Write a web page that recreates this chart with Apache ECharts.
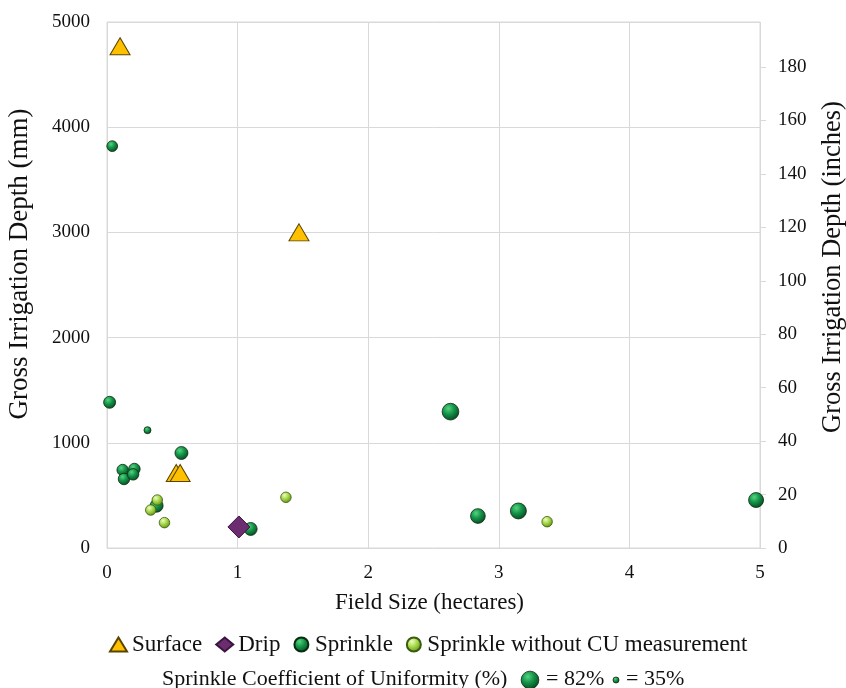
<!DOCTYPE html>
<html>
<head>
<meta charset="utf-8">
<script src="https://cdn.jsdelivr.net/npm/echarts@6/dist/echarts.min.js"></script>
<style>
  html, body { margin: 0; padding: 0; background: #fff; }
  #chart { width: 846px; height: 688px; }
</style>
</head>
<body>
<div id="chart"></div>
<script>
// Field size (ha) vs gross irrigation depth (mm) by irrigation method
const surfaceX = [0.10, 1.47, 0.53, 0.56];
const surfaceY = [4770, 3000, 713, 713];

const dripX = [1.01];
const dripY = [200];

// Sprinkle fields with a measured coefficient of uniformity (CU, %)
const sprinkleX  = [0.04, 0.02, 0.31, 0.57, 0.12, 0.21, 0.13, 0.20, 0.38, 1.10, 2.63, 2.84, 3.15, 4.97];
const sprinkleY  = [3820, 1385, 1120, 903, 741, 751, 656, 700, 402, 181, 1296, 304, 352, 456];
const sprinkleCU = [54, 59, 39, 63, 57, 57, 57, 57, 63, 63, 78, 70, 75, 71];

// Sprinkle fields without a CU measurement
const noCuX = [0.385, 0.335, 0.44, 1.37, 3.37];
const noCuY = [456, 361, 241, 482, 250];

const mmTicks = [0, 1000, 2000, 3000, 4000, 5000];
const inchTicks = [0, 20, 40, 60, 80, 100, 120, 140, 160, 180];
const fieldTicks = [0, 1, 2, 3, 4, 5];
const cuLegend = [82, 35];

const MM_PER_INCH = 25.4;
const FONT = '"Liberation Serif", "Times New Roman", serif';
const TXT = '#111';
const GRIDC = '#d9d9d9';

function cuToSize(cu) { return 6 + (cu - 35) * 11.7 / 47; }

const darkBall = {
  type: 'radial', x: 0.38, y: 0.32, r: 0.72,
  colorStops: [
    { offset: 0, color: '#55d480' },
    { offset: 0.45, color: '#15954a' },
    { offset: 1, color: '#04471d' }
  ]
};
const lightBall = {
  type: 'radial', x: 0.38, y: 0.32, r: 0.72,
  colorStops: [
    { offset: 0, color: '#eefcc0' },
    { offset: 0.45, color: '#a8d94c' },
    { offset: 1, color: '#5b8d14' }
  ]
};

const zip = (xs, ys, extra) => xs.map((x, i) => extra ? [x, ys[i], extra[i]] : [x, ys[i]]);

const chart = echarts.init(document.getElementById('chart'));
chart.setOption({
  animation: false,
  backgroundColor: '#fff',
  textStyle: { fontFamily: FONT, color: TXT },
  grid: {
    left: 107, right: 86, top: 22, bottom: 140,
    show: true, borderColor: GRIDC, borderWidth: 1,
    outerBoundsMode: 'none'
  },
  legend: {
    data: [
      { name: 'Surface', icon: 'triangle' },
      { name: 'Drip', icon: 'diamond' },
      { name: 'Sprinkle', icon: 'circle' },
      { name: 'Sprinkle without CU measurement', icon: 'circle' }
    ],
    left: 104,
    top: 628,
    itemWidth: 17,
    itemHeight: 14,
    itemGap: 13,
    textStyle: { fontFamily: FONT, fontSize: 23, color: TXT }
  },
  xAxis: {
    type: 'value',
    min: 0, max: 5, interval: 1,
    name: 'Field Size (hectares)',
    nameLocation: 'middle',
    nameGap: 43,
    nameTextStyle: { fontFamily: FONT, fontSize: 23, color: TXT, padding: [0, 8, 0, 0] },
    axisLine: { show: false },
    axisTick: { show: false },
    axisLabel: { customValues: fieldTicks, fontFamily: FONT, fontSize: 19, color: TXT, margin: 16 },
    splitLine: { show: true, lineStyle: { color: GRIDC, width: 1 } }
  },
  yAxis: [
    {
      type: 'value',
      min: 0, max: 5000, interval: 1000,
      name: 'Gross Irrigation Depth (mm)',
      nameLocation: 'middle',
      nameGap: 74,
      nameTextStyle: { fontFamily: FONT, fontSize: 27, color: TXT, padding: [0, 0, 0, 42] },
      axisLine: { show: false },
      axisTick: { show: false },
      axisLabel: {
        customValues: mmTicks, formatter: v => String(v),
        fontFamily: FONT, fontSize: 19, color: TXT, margin: 17
      },
      splitLine: { show: true, lineStyle: { color: GRIDC, width: 1 } }
    },
    {
      type: 'value',
      position: 'right',
      min: 0, max: 5000 / MM_PER_INCH,
      name: 'Gross Irrigation Depth (inches)',
      nameLocation: 'middle',
      nameGap: 60,
      nameTextStyle: { fontFamily: FONT, fontSize: 26.5, color: TXT, padding: [0, 0, 0, 36] },
      axisLine: { show: false },
      axisTick: { show: true, customValues: inchTicks, length: 6, lineStyle: { color: GRIDC } },
      axisLabel: {
        customValues: inchTicks, formatter: v => String(v),
        fontFamily: FONT, fontSize: 19, color: TXT, margin: 18
      },
      splitLine: { show: false }
    }
  ],
  series: [
    {
      name: 'Sprinkle',
      type: 'scatter',
      z: 2,
      data: zip(sprinkleX, sprinkleY, sprinkleCU),
      symbol: 'circle',
      symbolSize: v => cuToSize(v[2]),
      clip: false,
      itemStyle: { color: darkBall, borderColor: '#0b2a12', borderWidth: 0.8, opacity: 1 }
    },
    {
      name: 'Sprinkle without CU measurement',
      type: 'scatter',
      z: 3,
      data: zip(noCuX, noCuY),
      symbol: 'circle',
      symbolSize: 10.5,
      clip: false,
      itemStyle: { color: lightBall, borderColor: '#3a5a0e', borderWidth: 0.8, opacity: 1 }
    },
    {
      name: 'Surface',
      type: 'scatter',
      z: 4,
      data: zip(surfaceX, surfaceY),
      symbol: 'triangle',
      symbolSize: [20, 17],
      clip: false,
      itemStyle: { color: '#ffc000', borderColor: '#594300', borderWidth: 1, opacity: 1 }
    },
    {
      name: 'Drip',
      type: 'scatter',
      z: 5,
      data: zip(dripX, dripY),
      symbol: 'diamond',
      symbolSize: 22,
      clip: false,
      itemStyle: { color: '#6b2d6f', borderColor: '#3b1540', borderWidth: 1, opacity: 1 }
    }
  ],
  graphic: [
    {
      type: 'group',
      left: 162, top: 668,
      children: [
        {
          type: 'text', x: 0, y: 0,
          style: { text: 'Sprinkle Coefficient of Uniformity (%)', font: '22px ' + FONT, fill: TXT }
        },
        {
          type: 'circle', shape: { cx: 368, cy: 12, r: cuToSize(cuLegend[0]) / 2 },
          style: { fill: darkBall, stroke: '#0b2a12', lineWidth: 0.8 }
        },
        {
          type: 'text', x: 384, y: 0,
          style: { text: '= ' + cuLegend[0] + '%', font: '22px ' + FONT, fill: TXT }
        },
        {
          type: 'circle', shape: { cx: 454, cy: 12, r: cuToSize(cuLegend[1]) / 2 },
          style: { fill: darkBall, stroke: '#0b2a12', lineWidth: 0.8 }
        },
        {
          type: 'text', x: 464, y: 0,
          style: { text: '= ' + cuLegend[1] + '%', font: '22px ' + FONT, fill: TXT }
        }
      ]
    }
  ]
});
</script>
</body>
</html>
